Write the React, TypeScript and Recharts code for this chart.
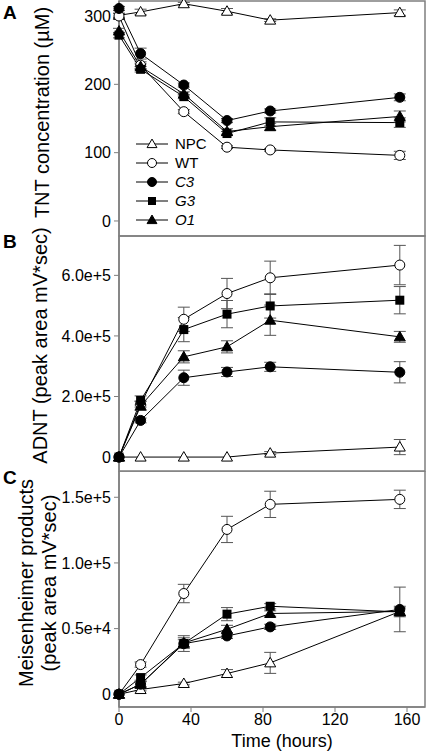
import React from "react";
import { LineChart, Line, XAxis, YAxis, ErrorBar, Legend, ReferenceArea, Label } from "recharts";

const hours = [0, 12, 36, 60, 84, 156];
const xTicks = [0, 40, 80, 120, 160];
const names = ["NPC", "WT", "C3", "G3", "O1"];

// A: TNT concentration (uM)
const tntNPC = [301, 306, 318, 307, 294, 305];
const tntWT = [300, 228, 160, 108, 104, 96];
const tntC3 = [311, 245, 199, 147, 161, 181];
const tntG3 = [272, 222, 182, 128, 145, 144];
const tntO1 = [278, 226, 186, 131, 138, 153];
const tntNPCErr = [3, 4, 2, 4, 2, 4];
const tntWTErr = [4, 5, 3, 2, 2, 6];
const tntC3Err = [3, 8, 3, 3, 3, 5];
const tntG3Err = [4, 4, 3, 3, 6, 7];
const tntO1Err = [4, 4, 3, 4, 5, 8];
const tntTicks = [0, 100, 200, 300];

// B: ADNT (peak area)
const adntNPC = [0, 0, 0, 0, 13000, 33000];
const adntWT = [0, 175000, 455000, 540000, 592000, 634000];
const adntC3 = [0, 121000, 262000, 281000, 298000, 280000];
const adntG3 = [0, 187000, 421000, 472000, 499000, 518000];
const adntO1 = [0, 169000, 331000, 364000, 452000, 397000];
const adntNPCErr = [0, 0, 0, 0, 5000, 25000];
const adntWTErr = [0, 10000, 40000, 50000, 55000, 65000];
const adntC3Err = [0, 8000, 25000, 15000, 15000, 35000];
const adntG3Err = [0, 15000, 40000, 45000, 40000, 45000];
const adntO1Err = [0, 15000, 20000, 20000, 50000, 18000];
const adntTicks = [0, 200000, 400000, 600000];
const adntTickLabels = ["0", "2.0e+5", "4.0e+5", "6.0e+5"];

// C: Meisenheimer products (peak area)
const meiNPC = [0, 3600, 8200, 15800, 23900, 63000];
const meiWT = [0, 22600, 76700, 125500, 144600, 148400];
const meiC3 = [0, 7600, 38500, 44400, 51300, 64600];
const meiG3 = [0, 12700, 38600, 61000, 67000, 62700];
const meiO1 = [0, 7600, 39000, 49500, 61500, 63000];
const meiNPCErr = [0, 1000, 1000, 3000, 8000, 0];
const meiWTErr = [0, 2000, 7000, 10000, 10000, 7000];
const meiC3Err = [0, 2000, 3000, 2000, 2000, 17000];
const meiG3Err = [0, 2000, 6000, 5000, 2000, 3000];
const meiO1Err = [0, 2000, 4000, 3000, 2000, 4000];
const meiTicks = [0, 50000, 100000, 150000];
const meiTickLabels = ["0", "0.5e+4", "1.0e+5", "1.5e+5"];

const markerKind: Record<string, string> = {
  NPC: "triOpen",
  WT: "circOpen",
  C3: "circFill",
  G3: "square",
  O1: "triFill",
};

const FRAME = "#7f7f7f";
const FONT = "'Liberation Sans', Arial, sans-serif";

function Marker({ kind, cx, cy, s }: { kind: string; cx: number; cy: number; s: number }) {
  if (cx == null || cy == null) return null;
  const h = s / 2;
  switch (kind) {
    case "circOpen":
      return <circle cx={cx} cy={cy} r={h} fill="#fff" stroke="#000" strokeWidth={1} />;
    case "circFill":
      return <circle cx={cx} cy={cy} r={h} fill="#000" stroke="#000" strokeWidth={1} />;
    case "square":
      return <rect x={cx - h + 0.5} y={cy - h + 0.5} width={s - 1} height={s - 1} fill="#000" />;
    case "triOpen":
    case "triFill":
      return (
        <polygon
          points={`${cx},${cy - h * 1.1} ${cx - h * 1.1},${cy + h * 0.8} ${cx + h * 1.1},${cy + h * 0.8}`}
          fill={kind === "triFill" ? "#000" : "#fff"}
          stroke="#000"
          strokeWidth={1}
        />
      );
  }
  return null;
}

function build(values: number[], errs: number[]) {
  return hours.map((t, i) => ({ t, v: values[i], e: errs[i] }));
}

const seriesA = [
  build(tntNPC, tntNPCErr),
  build(tntWT, tntWTErr),
  build(tntC3, tntC3Err),
  build(tntG3, tntG3Err),
  build(tntO1, tntO1Err),
];
const seriesB = [
  build(adntNPC, adntNPCErr),
  build(adntWT, adntWTErr),
  build(adntC3, adntC3Err),
  build(adntG3, adntG3Err),
  build(adntO1, adntO1Err),
];
const seriesC = [
  build(meiNPC, meiNPCErr),
  build(meiWT, meiWTErr),
  build(meiC3, meiC3Err),
  build(meiG3, meiG3Err),
  build(meiO1, meiO1Err),
];

function renderLines(series: { t: number; v: number; e: number }[][]) {
  return series.map((data, k) => (
    <Line
      key={names[k]}
      data={data}
      dataKey="v"
      name={names[k]}
      stroke="#000"
      strokeWidth={1}
      isAnimationActive={false}
      activeDot={false}
      dot={(p: any) => (
        <Marker key={`${names[k]}-${p.index}`} kind={markerKind[names[k]]} cx={p.cx} cy={p.cy} s={10} />
      )}
    >
      <ErrorBar dataKey="e" direction="y" width={6} stroke="#555" strokeWidth={1} isAnimationActive={false} />
    </Line>
  ));
}

function LegendBox(props: any) {
  const payload = [...(props.payload || [])].sort(
    (a: any, b: any) => names.indexOf(a.value) - names.indexOf(b.value)
  );
  return (
    <div style={{ fontFamily: FONT, fontSize: 15 }}>
      {payload.map((item: any) => (
        <div key={item.value} style={{ display: "flex", alignItems: "center", height: 19 }}>
          <svg width={34} height={14}>
            <line x1={0} x2={32} y1={7} y2={7} stroke="#000" strokeWidth={1} />
            <Marker kind={markerKind[item.value]} cx={16} cy={7} s={9} />
          </svg>
          <span style={{ marginLeft: 5, fontStyle: item.value === "NPC" || item.value === "WT" ? "normal" : "italic" }}>
            {item.value}
          </span>
        </div>
      ))}
    </div>
  );
}

const tickStyle = { fontSize: 16, fill: "#000", fontFamily: FONT };
const axisLabelStyle = { fontSize: 18, fill: "#000", fontFamily: FONT };
const yLabelStyle = { fontSize: 20, fill: "#000", fontFamily: FONT };

export default function App() {
  return (
    <div style={{ position: "absolute", left: 0, top: 0, width: 427, height: 752, background: "#fff", fontFamily: FONT }}>
      <div style={{ position: "absolute", left: 3, top: 2, fontSize: 19, fontWeight: "bold" }}>A</div>
      <div style={{ position: "absolute", left: 3, top: 231, fontSize: 19, fontWeight: "bold" }}>B</div>
      <div style={{ position: "absolute", left: 3, top: 467, fontSize: 19, fontWeight: "bold" }}>C</div>

      <div style={{ position: "absolute", left: 0, top: 0 }}>
        <LineChart width={427} height={240} margin={{ top: 1, right: 2, bottom: 4, left: 0 }}>
          <XAxis type="number" dataKey="t" domain={[0, 170]} hide allowDuplicatedCategory={false} />
          <YAxis
            type="number"
            domain={[-22, 322]}
            ticks={tntTicks}
            width={119}
            tick={tickStyle}
            tickSize={5}
            tickMargin={3}
            axisLine={{ stroke: FRAME, strokeWidth: 1.5 }}
            tickLine={{ stroke: FRAME }}
          >
            <Label value="TNT concentration (µM)" position="center" angle={-90} dx={-18} dy={-6} style={yLabelStyle} />
          </YAxis>
          <ReferenceArea x1={0} x2={170} y1={-22} y2={322} fill="none" stroke={FRAME} strokeWidth={1.5} />
          {renderLines(seriesA)}
          <Legend
            layout="vertical"
            align="center"
            verticalAlign="middle"
            wrapperStyle={{ left: 136, top: 134, width: 90 }}
            content={<LegendBox />}
          />
        </LineChart>
      </div>

      <div style={{ position: "absolute", left: 0, top: 216 }}>
        <LineChart width={427} height={260} margin={{ top: 20, right: 2, bottom: 5, left: 0 }}>
          <XAxis type="number" dataKey="t" domain={[0, 170]} hide allowDuplicatedCategory={false} />
          <YAxis
            type="number"
            domain={[-46000, 730000]}
            ticks={adntTicks}
            tickFormatter={(v: number) => adntTickLabels[adntTicks.indexOf(v)]}
            width={119}
            tick={tickStyle}
            tickSize={5}
            tickMargin={3}
            axisLine={{ stroke: FRAME, strokeWidth: 1.5 }}
            tickLine={{ stroke: FRAME }}
          >
            <Label value="ADNT (peak area mV*sec)" position="center" angle={-90} dx={-20} dy={-8} style={yLabelStyle} />
          </YAxis>
          <ReferenceArea x1={0} x2={170} y1={-46000} y2={730000} fill="none" stroke={FRAME} strokeWidth={1.5} />
          {renderLines(seriesB)}
        </LineChart>
      </div>

      <div style={{ position: "absolute", left: 0, top: 471 }}>
        <LineChart width={427} height={281} margin={{ top: 0, right: 2, bottom: 0, left: 0 }}>
          <XAxis
            type="number"
            dataKey="t"
            domain={[0, 170]}
            ticks={xTicks}
            height={45}
            tick={tickStyle}
            tickSize={5}
            tickMargin={2}
            axisLine={{ stroke: FRAME, strokeWidth: 1.5 }}
            tickLine={{ stroke: FRAME }}
            allowDuplicatedCategory={false}
          >
            <Label value="Time (hours)" position="insideBottom" offset={5} dx={10} style={axisLabelStyle} />
          </XAxis>
          <YAxis
            type="number"
            domain={[-9700, 170000]}
            ticks={meiTicks}
            tickFormatter={(v: number) => meiTickLabels[meiTicks.indexOf(v)]}
            width={119}
            tick={tickStyle}
            tickSize={5}
            tickMargin={3}
            axisLine={{ stroke: FRAME, strokeWidth: 1.5 }}
            tickLine={{ stroke: FRAME }}
          >
            <Label value="Meisenheimer products" position="center" angle={-90} dx={-34} dy={-6} style={yLabelStyle} />
            <Label value="(peak area mV*sec)" position="center" angle={-90} dx={-11} dy={-6} style={yLabelStyle} />
          </YAxis>
          <ReferenceArea x1={0} x2={170} y1={-9700} y2={170000} fill="none" stroke={FRAME} strokeWidth={1.5} />
          {renderLines(seriesC)}
        </LineChart>
      </div>
    </div>
  );
}
